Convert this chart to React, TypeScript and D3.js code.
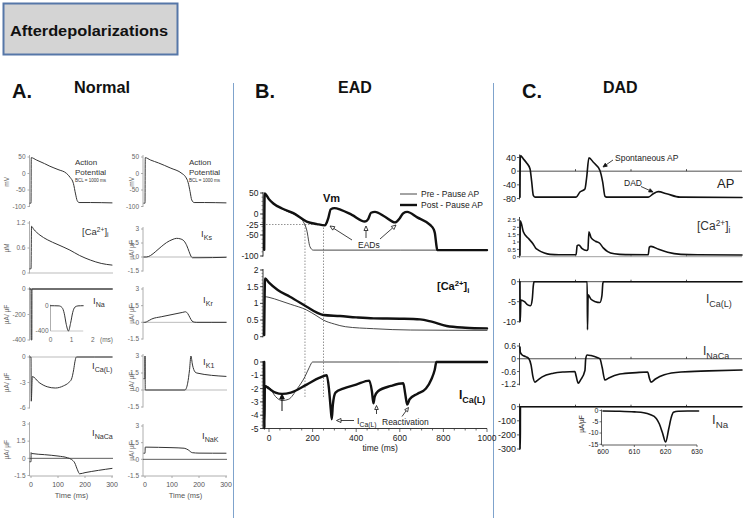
import React from "react";
import * as d3 from "d3";

type Pt = [number, number];

// ---------------- Panel A : Normal ----------------
const timeTicksA = [0, 100, 200, 300];
const apTicksA = [50, 0, -50, -100];
const caTicksA = [1.2, 0.6, 0];
const inaTicksA = [0, -200, -400];
const icaTicksA = [0, -3, -6];
const curTicksA = [3, 1.5, 0, -1.5];
const insetTicksXA = [0, 1, 2];
const insetTicksYA = [0, -400];

const apLeft: Pt[] = [[-4, -90], [0, -90], [1, 48], [20, 41], [50, 30], [70, 22], [100, 12], [132, 0], [145, -12], [157, -30], [165, -62], [171, -82], [178, -88], [220, -88], [300, -89]];
const caLeft: Pt[] = [[-4, 0.1], [0, 0.1], [2, 1.12], [10, 1.05], [33, 0.91], [60, 0.8], [100, 0.68], [144, 0.55], [180, 0.42], [220, 0.31], [260, 0.23], [300, 0.19]];
const inaLeft: Pt[] = [[-4, 0], [0, 0], [0.6, -400], [3, -400], [3.6, 0], [300, 0]];
const inaInsetA: Pt[] = [[0, 0], [0.4, -3], [0.55, -30], [0.65, -120], [0.75, -300], [0.85, -400], [0.95, -280], [1.05, -110], [1.15, -25], [1.3, -3], [1.55, 0]];
const icaLeft: Pt[] = [[-4, 0], [0, 0], [1, -5.2], [5, -2.3], [30, -3.0], [60, -3.5], [90, -3.65], [120, -3.4], [140, -3.0], [150, -2.6], [158, -1.5], [163, -0.5], [168, 0], [300, 0]];
const nacaLeft: Pt[] = [[-4, -0.3], [0, -0.3], [0.5, 0.5], [3, 0.42], [50, 0.32], [100, 0.2], [135, 0.05], [150, -0.1], [162, -0.4], [172, -1.0], [180, -1.35], [200, -1.25], [250, -1.05], [300, -0.88]];

const apRight: Pt[] = [[-4, -90], [0, -90], [1, 48], [20, 41], [50, 32], [93, 17], [137, 0], [150, -10], [160, -28], [167, -55], [173, -80], [182, -88], [220, -88], [300, -89]];
const iksRight: Pt[] = [[-4, 0], [5, 0], [20, 0.15], [40, 0.6], [60, 1.1], [80, 1.55], [100, 1.85], [117, 2.0], [130, 1.95], [145, 1.7], [155, 1.2], [163, 0.6], [170, 0.1], [176, -0.08], [200, -0.08], [300, -0.03]];
const ikrRight: Pt[] = [[-4, 0], [0, 0], [10, 0.1], [25, 0.3], [60, 0.5], [100, 0.7], [140, 0.9], [150, 0.95], [158, 0.8], [166, 0.45], [174, 0.12], [182, 0.02], [190, 0], [300, 0]];
const ik1Right: Pt[] = [[-4, 1.0], [-0.5, 1.0], [0, 3], [1, 0], [148, 0], [158, 0.6], [165, 1.8], [170, 3], [176, 2.2], [185, 1.6], [192, 1.5], [300, 1.2]];
const inakRight: Pt[] = [[-4, 0.55], [0, 0.55], [1, 1.1], [50, 1.08], [100, 1.05], [145, 1.0], [160, 0.85], [175, 0.6], [200, 0.56], [300, 0.55]];

// ---------------- Panel B : EAD ----------------
const timeTicksB = [0, 200, 400, 600, 800, 1000];
const vmTicksB = [50, 0, -25, -50, -100];
const caTicksB = [2, 1.5, 1, 0.5, 0];
const icaTicksB = [0, -1, -2, -3, -4, -5];
const dottedTimesB = [165, 250];

const vmPre: Pt[] = [[-22, -85], [-20, 48], [0, 35], [20, 25], [60, 12], [112, 0], [142, -8], [157, -18], [173, -38], [188, -78], [203, -86], [1000, -86]];
const vmPost: Pt[] = [[-22, -85], [-20, 49], [0, 35], [20, 25], [60, 13], [112, 2], [173, -18], [220, -24], [257, -27], [265, -20], [272, -10], [283, 11], [300, 14], [330, 10], [380, -2], [440, -18], [455, -12], [468, 3], [486, 5], [530, -6], [578, -20], [600, -10], [616, 2], [634, 5], [680, -8], [739, -26], [755, -36], [761, -46], [768, -75], [772, -86], [1000, -86]];
const caPre: Pt[] = [[-22, 0.05], [-20, 1.2], [0, 1.18], [50, 1.08], [100, 0.97], [173, 0.8], [220, 0.62], [249, 0.5], [300, 0.38], [350, 0.3], [480, 0.24], [650, 0.2], [1000, 0.19]];
const caPost: Pt[] = [[-22, 0.05], [-18, 1.75], [0, 1.62], [40, 1.4], [96, 1.2], [173, 0.9], [220, 0.72], [249, 0.65], [326, 0.62], [400, 0.58], [480, 0.55], [600, 0.54], [693, 0.52], [746, 0.45], [815, 0.32], [900, 0.27], [1000, 0.25]];
const icaPre: Pt[] = [[-22, 0], [-21, -5], [-19, -1.8], [0, -1.9], [30, -2.6], [60, -2.9], [90, -2.8], [130, -2.0], [165, -1.1], [185, -0.4], [200, 0], [1000, 0]];
const icaPost: Pt[] = [[-22, 0], [-21, -5], [-19, -1.8], [0, -2.0], [30, -2.3], [60, -2.4], [100, -2.3], [173, -1.7], [230, -1.2], [265, -1.0], [275, -2.0], [283, -3.5], [288, -4.3], [293, -3.2], [305, -2.3], [340, -2.0], [400, -1.7], [460, -1.4], [472, -2.2], [479, -3.1], [485, -2.6], [500, -2.2], [560, -1.8], [616, -1.6], [625, -2.4], [634, -3.2], [645, -2.8], [680, -2.4], [720, -2.0], [745, -1.3], [760, -0.6], [768, 0], [1000, 0]];

// ---------------- Panel C : DAD ----------------
const apTicksC = [40, 0, -40, -80];
const caTicksC = [2.5, 2, 1.5, 1, 0.5, 0];
const icaTicksC = [0, -5, -10];
const nacaTicksC = [0.6, 0, -0.6, -1.2];
const inaTicksC = [0, -100, -200, -300];
const gridTimesC = [500, 1000, 1500];
const insetTicksXC = [600, 610, 620, 630];
const insetTicksYC = [0, -5, -10, -15];

const apDad: Pt[] = [[0, -76], [3, 46], [30, 36], [60, 24], [90, 7], [105, -30], [120, -71], [135, -76], [505, -76], [540, -61], [585, -52], [600, -20], [621, 39], [661, 26], [720, 2], [745, -32], [766, -74], [780, -76], [1156, -76], [1201, -66], [1246, -60], [1321, -66], [1441, -76], [2000, -77]];
const caDad: Pt[] = [[0, 0.1], [3, 2.45], [30, 1.7], [75, 1.25], [115, 0.9], [140, 0.6], [165, 0.45], [220, 0.25], [270, 0.16], [350, 0.13], [505, 0.13], [515, 0.75], [530, 0.8], [560, 0.55], [600, 0.42], [612, 0.5], [621, 1.7], [640, 1.3], [680, 1.05], [720, 0.9], [750, 0.6], [790, 0.35], [850, 0.2], [950, 0.14], [1155, 0.13], [1165, 0.65], [1180, 0.7], [1250, 0.5], [1330, 0.3], [1450, 0.16], [1600, 0.13], [2000, 0.12]];
const icaDad: Pt[] = [[0, 0], [2, -10], [8, -4.6], [40, -5.0], [70, -5.8], [95, -6.0], [110, -4.5], [120, -1], [126, 0], [605, 0], [608, -12], [614, -3.3], [640, -4.4], [680, -5.0], [720, -5.2], [738, -3.5], [746, -0.5], [750, 0], [2000, 0]];
const nacaDad: Pt[] = [[0, 0.55], [3, 0.3], [20, 0.18], [50, 0.1], [80, 0], [100, -0.3], [115, -0.8], [135, -1.1], [160, -1.0], [200, -0.85], [300, -0.68], [400, -0.62], [495, -0.6], [505, -0.8], [525, -1.15], [545, -1.0], [585, -0.55], [592, 0], [605, 0.18], [640, 0.15], [700, 0.05], [720, 0], [740, -0.4], [765, -1.0], [800, -0.9], [900, -0.72], [1050, -0.65], [1150, -0.62], [1165, -0.9], [1180, -1.1], [1220, -0.95], [1300, -0.75], [1450, -0.62], [1700, -0.57], [2000, -0.53]];
const inaDad: Pt[] = [[0, 0], [1, -300], [3, -300], [4, 0], [2000, 0]];
const inaInsetC: Pt[] = [[600, -0.2], [605, -0.3], [610, -0.6], [613, -1.0], [615, -1.8], [617, -3.5], [618, -6], [619, -10], [620, -14], [621, -8], [621.8, -3], [622.5, -0.8], [624, -0.3], [627, -0.2], [630.5, -0.2]];

const FONT = "'Liberation Sans', Arial, Helvetica, sans-serif";

type Sc = d3.ScaleLinear<number, number>;

function Trace({ data, x, y, color = "#222", w = 1 }: { data: Pt[]; x: Sc; y: Sc; color?: string; w?: number }) {
  const d = d3.line<Pt>().x((p) => x(p[0])).y((p) => y(p[1])).curve(d3.curveMonotoneX)(data);
  return <path d={d || ""} fill="none" stroke={color} strokeWidth={w} strokeLinejoin="round" strokeLinecap="round" />;
}

function Arrow({ x1, y1, x2, y2, head = 5, fill = "white", sw = 0.8 }: any) {
  const a = Math.atan2(y2 - y1, x2 - x1);
  const hw = head * 0.45;
  const bx = x2 - head * Math.cos(a);
  const by = y2 - head * Math.sin(a);
  const p1 = `${bx + hw * Math.sin(a)},${by - hw * Math.cos(a)}`;
  const p2 = `${bx - hw * Math.sin(a)},${by + hw * Math.cos(a)}`;
  return (
    <g>
      <line x1={x1} y1={y1} x2={bx} y2={by} stroke="#111" strokeWidth={sw} />
      <polygon points={`${x2},${y2} ${p1} ${p2}`} fill={fill} stroke="#111" strokeWidth={sw} />
    </g>
  );
}

function CaLabel({ x, y, size, bold = false, fill = "#222" }: any) {
  return (
    <text x={x} y={y} fontSize={size} fontWeight={bold ? "bold" : "normal"} fill={fill}>
      [Ca<tspan dy={-size * 0.35} fontSize={size * 0.7}>2+</tspan>
      <tspan dy={size * 0.35}>]</tspan>
      <tspan dy={size * 0.25} fontSize={size * 0.7}>i</tspan>
    </text>
  );
}

function CurLabel({ x, y, sub, size, bold = false, fill = "#222" }: any) {
  return (
    <text x={x} y={y} fontSize={size} fontWeight={bold ? "bold" : "normal"} fill={fill}>
      I<tspan dy={size * 0.3} fontSize={size * 0.75}>{sub}</tspan>
    </text>
  );
}

export default function App() {
  const W = 748, H = 518;

  // ---- Panel A ----
  const xAL = d3.scaleLinear().domain([0, 300]).range([31, 112]);
  const xAR = d3.scaleLinear().domain([0, 300]).range([145, 226]);
  const leftPanels = [
    { data: apLeft, dom: [50, -100], rng: [157, 206.5], ticks: apTicksA, zero: null as string | null, ylab: "mV" },
    { data: caLeft, dom: [1.2, 0], rng: [223, 273], ticks: caTicksA, zero: "#aaa", ylab: "µM" },
    { data: inaLeft, dom: [0, -400], rng: [289, 340], ticks: inaTicksA, zero: "#333", ylab: "µA/ µF" },
    { data: icaLeft, dom: [0, -6], rng: [357, 408], ticks: icaTicksA, zero: "#aaa", ylab: "µA/ µF" },
    { data: nacaLeft, dom: [3, -1.5], rng: [424, 475.5], ticks: curTicksA, zero: "#333", ylab: "µA/ µF" },
  ];
  const rightPanels = [
    { data: apRight, dom: [50, -100], rng: [157, 206.5], ticks: apTicksA, zero: null as string | null, ylab: "mV" },
    { data: iksRight, dom: [3, -1.5], rng: [229, 271], ticks: curTicksA, zero: "#aaa", ylab: "µA/ µF" },
    { data: ikrRight, dom: [3, -1.5], rng: [289, 339], ticks: curTicksA, zero: "#aaa", ylab: "µA/ µF" },
    { data: ik1Right, dom: [3, -1.5], rng: [356, 407], ticks: curTicksA, zero: "#aaa", ylab: "µA/ µF" },
    { data: inakRight, dom: [3, -1.5], rng: [426, 476], ticks: curTicksA, zero: "#333", ylab: "µA/ µF" },
  ];

  const renderA = (panels: typeof leftPanels, xs: Sc, axisX: number, ylabX: number) =>
    panels.map((p, i) => {
      const y = d3.scaleLinear().domain(p.dom).range(p.rng);
      return (
        <g key={i}>
          <line x1={axisX} x2={axisX} y1={p.rng[0] - 2} y2={p.rng[1] + 0.5} stroke="#999" strokeWidth={0.8} />
          {p.ticks.map((t) => (
            <g key={t}>
              <line x1={axisX - 2} x2={axisX} y1={y(t)} y2={y(t)} stroke="#999" strokeWidth={0.8} />
              <text x={axisX - 4} y={y(t) + 2.3} textAnchor="end" fontSize={6.5} fill="#666">{t}</text>
            </g>
          ))}
          {p.zero && <line x1={axisX} x2={xs(300) + 1} y1={y(0)} y2={y(0)} stroke={p.zero} strokeWidth={0.8} />}
          <Trace data={p.data} x={xs} y={y} color="#333" w={1} />
          <text transform={`translate(${ylabX},${(p.rng[0] + p.rng[1]) / 2}) rotate(-90)`} textAnchor="middle" fontSize={6.5} fill="#666">{p.ylab}</text>
        </g>
      );
    });

  const insetXA = d3.scaleLinear().domain([0, 2]).range([50.5, 92.7]);
  const insetYA = d3.scaleLinear().domain([0, -400]).range([305.7, 331]);

  // ---- Panel B ----
  const xB = d3.scaleLinear().domain([0, 1000]).range([269, 487]);
  const yVm = d3.scaleLinear().domain([50, -100]).range([193, 256]);
  const yCaB = d3.scaleLinear().domain([2, 0]).range([270, 336.7]);
  const yIcaB = d3.scaleLinear().domain([0, -5]).range([362, 428.5]);
  const axB = 263;
  const bAxes = [
    { y: yVm, ticks: vmTicksB, minor: d3.range(-100, 51, 10) },
    { y: yCaB, ticks: caTicksB, minor: d3.range(0, 2.01, 0.1) },
    { y: yIcaB, ticks: icaTicksB, minor: d3.range(-5, 0.01, 0.25) },
  ];

  // ---- Panel C ----
  const xC = d3.scaleLinear().domain([0, 2000]).range([520, 742]);
  const axC = 519.5;
  const cPanels = [
    { data: apDad, y: d3.scaleLinear().domain([40, -80]).range([157.5, 198.5]), ticks: apTicksC, zero: "#222", fs: 9 },
    { data: caDad, y: d3.scaleLinear().domain([2.5, 0]).range([220, 256.7]), ticks: caTicksC, zero: "#888", fs: 6.2 },
    { data: icaDad, y: d3.scaleLinear().domain([0, -10]).range([281.7, 321.7]), ticks: icaTicksC, zero: "#222", fs: 9 },
    { data: nacaDad, y: d3.scaleLinear().domain([0.6, -1.2]).range([346, 384.3]), ticks: nacaTicksC, zero: "#222", fs: 8.5 },
    { data: inaDad, y: d3.scaleLinear().domain([0, -300]).range([406.7, 449]), ticks: inaTicksC, zero: "#222", fs: 9 },
  ];
  const xInC = d3.scaleLinear().domain([600, 630]).range([603, 697]);
  const yInC = d3.scaleLinear().domain([0, -15]).range([410.5, 444.3]);

  return (
    <svg width={W} height={H} viewBox={`0 0 ${W} ${H}`} style={{ position: "absolute", left: 0, top: 0, background: "#fff" }} fontFamily={FONT}>
      <rect x={0} y={0} width={W} height={H} fill="#fff" />
      {/* title */}
      <rect x={3.5} y={3.5} width={174} height={51} fill="#d4d4d4" stroke="#5677a8" strokeWidth={2} />
      <text x={10} y={36} fontSize={14.5} fontWeight="bold" fill="#111" textLength={158} lengthAdjust="spacingAndGlyphs">Afterdepolarizations</text>

      {/* section headers */}
      <text x={12} y={98} fontSize={20} fontWeight="bold" fill="#111">A.</text>
      <text x={74} y={93} fontSize={16} fontWeight="bold" fill="#111" textLength={56} lengthAdjust="spacingAndGlyphs">Normal</text>
      <text x={255} y={98} fontSize={20} fontWeight="bold" fill="#111">B.</text>
      <text x={338} y={93} fontSize={16} fontWeight="bold" fill="#111">EAD</text>
      <text x={522} y={98} fontSize={20} fontWeight="bold" fill="#111">C.</text>
      <text x={603} y={93} fontSize={16} fontWeight="bold" fill="#111">DAD</text>

      {/* dividers */}
      <line x1={233.5} x2={233.5} y1={83} y2={518} stroke="#7fa3cc" strokeWidth={1} />
      <line x1={493.5} x2={493.5} y1={83} y2={518} stroke="#7fa3cc" strokeWidth={1} />

      {/* ===== Panel A ===== */}
      {renderA(leftPanels, xAL, 29.5, 9)}
      {renderA(rightPanels, xAR, 143, 134)}
      {/* A x axes */}
      {[{ xs: xAL, ax: 29.5 }, { xs: xAR, ax: 143 }].map((c, i) => (
        <g key={i}>
          <line x1={c.ax} x2={c.xs(300) + 1} y1={476} y2={476} stroke="#999" strokeWidth={0.8} />
          {timeTicksA.map((t) => (
            <g key={t}>
              <line x1={c.xs(t)} x2={c.xs(t)} y1={476} y2={478} stroke="#999" strokeWidth={0.8} />
              <text x={c.xs(t)} y={487} textAnchor="middle" fontSize={7} fill="#555">{t}</text>
            </g>
          ))}
          <text x={(c.xs(0) + c.xs(300)) / 2} y={498} textAnchor="middle" fontSize={7.5} fill="#555">Time (ms)</text>
        </g>
      ))}
      {/* A inset INa */}
      <line x1={insetXA(0)} x2={insetXA(0)} y1={insetYA(0) - 1} y2={insetYA(-400)} stroke="#999" strokeWidth={0.8} />
      <line x1={insetXA(0)} x2={insetXA(1.55)} y1={insetYA(-400)} y2={insetYA(-400)} stroke="#bbb" strokeWidth={0.8} />
      {insetTicksYA.map((t) => (
        <text key={t} x={insetXA(0) - 2} y={insetYA(t) + 2.3} textAnchor="end" fontSize={6.5} fill="#666">{t}</text>
      ))}
      {insetTicksXA.map((t) => (
        <text key={t} x={insetXA(t)} y={342} textAnchor="middle" fontSize={6.5} fill="#666">{t}</text>
      ))}
      <text x={100} y={342} fontSize={6.5} fill="#666">(ms)</text>
      <Trace data={inaInsetA} x={insetXA} y={insetYA} color="#333" w={1} />

      {/* A labels */}
      {[75, 189].map((lx) => (
        <g key={lx}>
          <text x={lx} y={165} fontSize={8} fill="#333">Action</text>
          <text x={lx} y={175} fontSize={8} fill="#333">Potential</text>
          <text x={lx} y={182} fontSize={4.5} fill="#333">BCL = 1000 ms</text>
        </g>
      ))}
      <CaLabel x={82} y={235} size={9.5} fill="#333" />
      <CurLabel x={93} y={304} sub="Na" size={9.5} fill="#333" />
      <CurLabel x={92} y={369} sub="Ca(L)" size={9.5} fill="#333" />
      <CurLabel x={92} y={436} sub="NaCa" size={9.5} fill="#333" />
      <CurLabel x={201} y={237} sub="Ks" size={9.5} fill="#333" />
      <CurLabel x={203} y={303} sub="Kr" size={9.5} fill="#333" />
      <CurLabel x={203} y={365} sub="K1" size={9.5} fill="#333" />
      <CurLabel x={202} y={439} sub="NaK" size={9.5} fill="#333" />

      {/* ===== Panel B ===== */}
      {bAxes.map((a, i) => {
        const r = a.y.range();
        return (
          <g key={i}>
            <line x1={axB} x2={axB} y1={r[0] - 1} y2={r[1] + 0.5} stroke="#222" strokeWidth={0.9} />
            {a.minor.map((m) => (
              <line key={m} x1={axB - 1.5} x2={axB} y1={a.y(m)} y2={a.y(m)} stroke="#444" strokeWidth={0.6} />
            ))}
            {a.ticks.map((t) => (
              <g key={t}>
                <line x1={axB - 3} x2={axB} y1={a.y(t)} y2={a.y(t)} stroke="#222" strokeWidth={0.8} />
                <text x={axB - 4.5} y={a.y(t) + 3} textAnchor="end" fontSize={8.5} fill="#222">{t}</text>
              </g>
            ))}
          </g>
        );
      })}
      {/* B x axis */}
      <line x1={axB} x2={487} y1={428.5} y2={428.5} stroke="#222" strokeWidth={0.9} />
      {d3.range(0, 1001, 50).map((t) => (
        <line key={t} x1={xB(t)} x2={xB(t)} y1={428.5} y2={t % 200 === 0 ? 432 : 430.5} stroke="#333" strokeWidth={0.7} />
      ))}
      {timeTicksB.map((t) => (
        <text key={t} x={xB(t)} y={441} textAnchor="middle" fontSize={8.5} fill="#222">{t}</text>
      ))}
      <text x={xB(510)} y={451} textAnchor="middle" fontSize={8.5} fill="#222">time (ms)</text>

      {/* dotted guides */}
      <line x1={axB} x2={xB(dottedTimesB[1])} y1={yVm(-25)} y2={yVm(-25)} stroke="#777" strokeWidth={0.8} strokeDasharray="1.5,1.5" />
      {dottedTimesB.map((t) => (
        <line key={t} x1={xB(t)} x2={xB(t)} y1={yVm(-25)} y2={398} stroke="#777" strokeWidth={0.8} strokeDasharray="1.5,1.5" />
      ))}

      <Trace data={vmPre} x={xB} y={yVm} color="#333" w={0.9} />
      <Trace data={vmPost} x={xB} y={yVm} color="#111" w={2.4} />
      <Trace data={caPre} x={xB} y={yCaB} color="#333" w={0.9} />
      <Trace data={caPost} x={xB} y={yCaB} color="#111" w={2.4} />
      <Trace data={icaPre} x={xB} y={yIcaB} color="#333" w={0.9} />
      <Trace data={icaPost} x={xB} y={yIcaB} color="#111" w={2.4} />

      {/* B legend & labels */}
      <line x1={400} x2={417} y1={194} y2={194} stroke="#333" strokeWidth={0.9} />
      <text x={421} y={197} fontSize={8.5} fill="#222">Pre - Pause AP</text>
      <line x1={400} x2={417} y1={205} y2={205} stroke="#111" strokeWidth={2.4} />
      <text x={421} y={208} fontSize={8.5} fill="#222">Post - Pause AP</text>
      <text x={323} y={201.5} fontSize={11} fontWeight="bold" fill="#111">Vm</text>
      <text x={358} y={247.5} fontSize={8.5} fill="#222">EADs</text>
      <Arrow x1={352} y1={240} x2={330} y2={226} head={4.5} />
      <Arrow x1={366} y1={238} x2={366} y2={226} head={4.5} />
      <Arrow x1={380} y1={239} x2={396} y2={225} head={4.5} />
      <CaLabel x={437} y={290} size={11} bold fill="#111" />
      <CurLabel x={459} y={399} sub="Ca(L)" size={12} bold fill="#111" />
      <Arrow x1={282} y1={411} x2={282} y2={394} head={5} fill="#111" sw={1} />
      <Arrow x1={354} y1={420.5} x2={336.5} y2={420.5} head={4.5} />
      <CurLabel x={357} y={424} sub="Ca(L)" size={9} fill="#222" />
      <text x={382} y={424.5} fontSize={8.5} fill="#222">Reactivation</text>
      <Arrow x1={376.5} y1={414} x2={376.5} y2={405.5} head={4} />
      <Arrow x1={402} y1={416.5} x2={408.5} y2={407.5} head={4} />

      {/* ===== Panel C ===== */}
      {cPanels.map((p, i) => {
        const r = p.y.range();
        return (
          <g key={i}>
            <line x1={axC} x2={axC} y1={r[0] - 3} y2={r[1] + 1} stroke="#333" strokeWidth={0.9} />
            {p.ticks.map((t) => (
              <g key={t}>
                <line x1={axC - 2.5} x2={axC} y1={p.y(t)} y2={p.y(t)} stroke="#333" strokeWidth={0.8} />
                <text x={axC - 3.5} y={p.y(t) + p.fs * 0.35} textAnchor="end" fontSize={p.fs} fill="#222">{t}</text>
              </g>
            ))}
            <line x1={axC} x2={742} y1={p.y(0)} y2={p.y(0)} stroke={p.zero} strokeWidth={0.8} />
            {gridTimesC.map((t) => (
              <line key={t} x1={xC(t)} x2={xC(t)} y1={p.y(0)} y2={p.y(0) - 2} stroke={p.zero} strokeWidth={0.8} />
            ))}
            <Trace data={p.data} x={xC} y={p.y} color="#111" w={1.6} />
          </g>
        );
      })}
      {/* C inset */}
      <line x1={601.5} x2={601.5} y1={yInC(0) - 1} y2={445} stroke="#333" strokeWidth={0.8} />
      <line x1={601.5} x2={697} y1={445} y2={445} stroke="#333" strokeWidth={0.8} />
      {insetTicksYC.map((t) => (
        <g key={t}>
          <line x1={599.5} x2={601.5} y1={yInC(t)} y2={yInC(t)} stroke="#333" strokeWidth={0.7} />
          <text x={598.5} y={yInC(t) + 2.4} textAnchor="end" fontSize={7} fill="#222">{t}</text>
        </g>
      ))}
      {insetTicksXC.map((t) => (
        <g key={t}>
          <line x1={xInC(t)} x2={xInC(t)} y1={445} y2={447} stroke="#333" strokeWidth={0.7} />
          <text x={xInC(t)} y={454} textAnchor="middle" fontSize={7} fill="#222">{t}</text>
        </g>
      ))}
      <text transform="translate(584,424) rotate(-90)" textAnchor="middle" fontSize={6.5} fill="#222">µA/µF</text>
      <Trace data={inaInsetC} x={xInC} y={yInC} color="#111" w={1.6} />

      {/* C labels */}
      <text x={615} y={161} fontSize={8.5} fill="#222">Spontaneous AP</text>
      <Arrow x1={613} y1={160} x2={603} y2={167} head={4} fill="#111" />
      <text x={624} y={186} fontSize={8.5} fill="#222">DAD</text>
      <Arrow x1={641} y1={186.5} x2={653} y2={192} head={4} fill="#111" />
      <text x={717} y={188} fontSize={13} fill="#222">AP</text>
      <CaLabel x={697} y={230} size={12} fill="#333" />
      <CurLabel x={706} y={303} sub="Ca(L)" size={12} fill="#333" />
      <CurLabel x={703} y={355} sub="NaCa" size={12} fill="#333" />
      <CurLabel x={712} y={424} sub="Na" size={13} fill="#333" />
    </svg>
  );
}
